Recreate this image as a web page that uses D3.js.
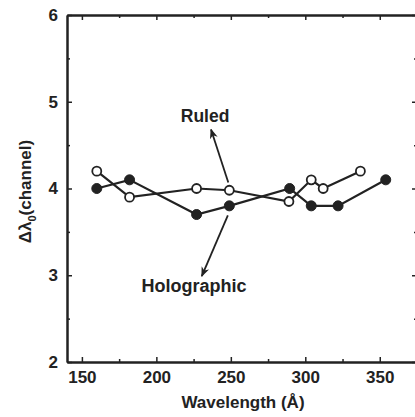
<!DOCTYPE html>
<html><head><meta charset="utf-8">
<script src="https://cdn.jsdelivr.net/npm/d3@7"></script>
<style>body{margin:0;background:#fff;} svg{display:block;}</style>
</head><body>
<script>
const wavelengthRuled = [160, 182, 227, 249, 289, 304, 312, 337];
const ruledValues = [4.2, 3.9, 4.0, 3.98, 3.85, 4.1, 4.0, 4.2];
const wavelengthHolo = [160, 182, 227, 249, 289.5, 304, 322, 354];
const holoValues = [4.0, 4.1, 3.7, 3.8, 4.0, 3.8, 3.8, 4.1];
const xTicks = [150, 200, 250, 300, 350];
const yTicks = [2, 3, 4, 5, 6];

const W = 415, H = 417;
const m = {left: 67, top: 15, right: 417, bottom: 362};
const ink = "#222";
const font = "'Liberation Sans', Arial, sans-serif";

const svg = d3.select("body").append("svg").attr("width", W).attr("height", H);
const x = d3.scaleLinear().domain([140, 375]).range([m.left, m.right]);
const y = d3.scaleLinear().domain([2, 6]).range([m.bottom, m.top]);

const xMinor = [175, 225, 275, 325];
const yMinor = [2.5, 3.5, 4.5, 5.5];

// bottom axis
svg.append("g").attr("transform", `translate(0,${m.bottom})`)
  .call(d3.axisBottom(x).tickValues(xTicks).tickSizeInner(-5).tickSizeOuter(0).tickPadding(9));
svg.append("g").attr("transform", `translate(0,${m.bottom})`)
  .call(d3.axisBottom(x).tickValues(xMinor).tickSizeInner(-3).tickSizeOuter(0).tickFormat(""));
// top axis
svg.append("g").attr("transform", `translate(0,${m.top})`)
  .call(d3.axisTop(x).tickValues(xTicks).tickSizeInner(-5).tickSizeOuter(0).tickFormat(""));
svg.append("g").attr("transform", `translate(0,${m.top})`)
  .call(d3.axisTop(x).tickValues(xMinor).tickSizeInner(-3).tickSizeOuter(0).tickFormat(""));
// left axis
svg.append("g").attr("transform", `translate(${m.left},0)`)
  .call(d3.axisLeft(y).tickValues(yTicks).tickSizeInner(-5).tickSizeOuter(0).tickPadding(9).tickFormat(d3.format("d")));
svg.append("g").attr("transform", `translate(${m.left},0)`)
  .call(d3.axisLeft(y).tickValues(yMinor).tickSizeInner(-3).tickSizeOuter(0).tickFormat(""));
// right axis
svg.append("g").attr("transform", `translate(${m.right},0)`)
  .call(d3.axisRight(y).tickValues(yTicks).tickSizeInner(-5).tickSizeOuter(0).tickFormat(""));
svg.append("g").attr("transform", `translate(${m.right},0)`)
  .call(d3.axisRight(y).tickValues(yMinor).tickSizeInner(-3).tickSizeOuter(0).tickFormat(""));

svg.selectAll(".domain").attr("stroke", ink).attr("stroke-width", 2);
svg.selectAll(".tick line").attr("stroke", ink).attr("stroke-width", 1.5);
svg.selectAll(".tick text").attr("fill", ink).attr("font-family", font)
  .attr("font-weight", "bold").attr("font-size", 17);

// lines
const line = d3.line().x(d => x(d[0])).y(d => y(d[1]));
const holo = wavelengthHolo.map((w, i) => [w, holoValues[i]]);
const ruled = wavelengthRuled.map((w, i) => [w, ruledValues[i]]);

svg.append("path").datum(holo).attr("d", line).attr("fill", "none")
  .attr("stroke", ink).attr("stroke-width", 2.2);
svg.append("path").datum(ruled).attr("d", line).attr("fill", "none")
  .attr("stroke", ink).attr("stroke-width", 2.2);

svg.selectAll(".holo").data(holo).enter().append("circle")
  .attr("cx", d => x(d[0])).attr("cy", d => y(d[1])).attr("r", 5)
  .attr("fill", ink).attr("stroke", ink).attr("stroke-width", 1);
svg.selectAll(".ruled").data(ruled).enter().append("circle")
  .attr("cx", d => x(d[0])).attr("cy", d => y(d[1])).attr("r", 4.5)
  .attr("fill", "#fff").attr("stroke", ink).attr("stroke-width", 1.8);

// arrows
const defs = svg.append("defs");
defs.append("marker").attr("id", "ah").attr("viewBox", "0 0 10 10")
  .attr("refX", 9).attr("refY", 5).attr("markerWidth", 10).attr("markerHeight", 10)
  .attr("markerUnits", "userSpaceOnUse").attr("orient", "auto")
  .append("path").attr("d", "M0,1 L10,5 L0,9 L3,5 Z").attr("fill", ink);

svg.append("line").attr("x1", x(248.3)).attr("y1", y(4.07)).attr("x2", x(236.7)).attr("y2", y(4.68))
  .attr("stroke", ink).attr("stroke-width", 1.8).attr("marker-end", "url(#ah)");
svg.append("line").attr("x1", x(248)).attr("y1", y(3.69)).attr("x2", x(230.5)).attr("y2", y(2.99))
  .attr("stroke", ink).attr("stroke-width", 1.8).attr("marker-end", "url(#ah)");

svg.append("text").attr("x", x(232.7)).attr("y", y(4.77)).attr("text-anchor", "middle")
  .attr("font-family", font).attr("font-weight", "bold").attr("font-size", 17.5).attr("fill", ink)
  .text("Ruled");
svg.append("text").attr("x", x(225.3)).attr("y", y(2.81)).attr("text-anchor", "middle")
  .attr("font-family", font).attr("font-weight", "bold").attr("font-size", 18).attr("fill", ink)
  .text("Holographic");

// axis titles
svg.append("text").attr("x", 243).attr("y", 408).attr("text-anchor", "middle")
  .attr("font-family", font).attr("font-weight", "bold").attr("font-size", 17).attr("fill", ink)
  .text("Wavelength (Å)");

const yl = svg.append("text").attr("transform", `translate(31,${y(4) + 3}) rotate(-90)`)
  .attr("text-anchor", "middle")
  .attr("font-family", font).attr("font-weight", "bold").attr("font-size", 17).attr("fill", ink);
yl.append("tspan").text("Δλ");
yl.append("tspan").attr("font-size", 11).attr("dy", 5).text("0");
yl.append("tspan").attr("dy", -5).text("(channel)");
</script>
</body></html>
